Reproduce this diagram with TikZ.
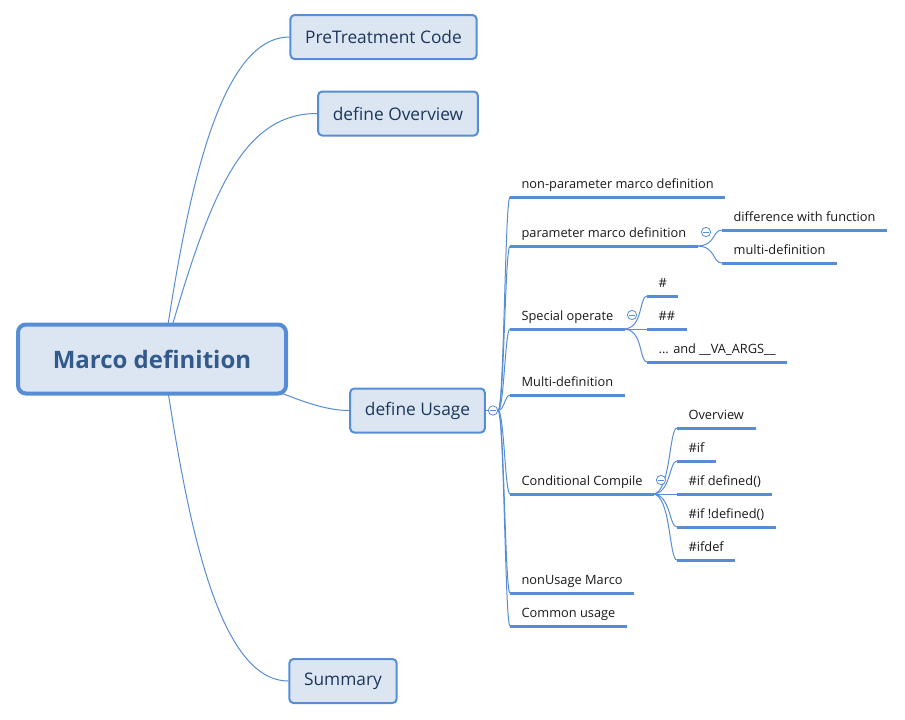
\documentclass[tikz,border=0pt]{standalone}
\usepackage{fontspec}
\setmainfont{Open Sans}
\usetikzlibrary{backgrounds}
\definecolor{mmline}{RGB}{86,141,214}
\definecolor{mmfill}{RGB}{220,230,242}
\definecolor{mmtext}{RGB}{28,55,92}
\definecolor{mmroot}{RGB}{50,90,140}
\definecolor{mmleaf}{RGB}{25,25,25}

\begin{document}
\begin{tikzpicture}[x=0.75pt,y=-0.75pt,
    topic/.style={draw=mmline,line width=1.5pt,fill=mmfill,rounded corners=3pt,inner xsep=11pt,minimum height=33pt,font=\fontsize{13}{15}\selectfont,text=mmtext},
    central/.style={draw=mmline,line width=3pt,fill=mmfill,rounded corners=6pt,minimum width=201pt,minimum height=51.75pt,font=\fontsize{18}{21}\selectfont\bfseries,text=mmroot},
    leaf/.style={anchor=south west,inner xsep=8.5pt,inner ysep=4pt,text height=7.5pt,text depth=2pt,font=\fontsize{9.6}{11.5}\selectfont,text=mmleaf},
    link/.style={draw=mmline,line width=0.75pt},
    uline/.style={draw=mmline,line width=2.25pt},
    fold/.style={circle,draw=mmline,fill=white,line width=0.6pt,inner sep=0pt,minimum size=7pt,
        path picture={\draw[mmline,line width=0.5pt] ([xshift=-2pt]path picture bounding box.center) -- ([xshift=2pt]path picture bounding box.center);}}]

    \useasboundingbox (0,0) rectangle (905,719);

    % Central topic and main branches
    \node[central] (root) at (152,359) {Marco definition};
    \coordinate (hub) at (163,358);
    \node[topic] (pre) at (383.5,37) {PreTreatment Code};
    \node[topic] (over) at (398,113.5) {define Overview};
    \node[topic] (usage) at (417.5,410.5) {define Usage};
    \node[topic] (sum) at (343,681) {Summary};

    % Subtopics of define Usage
    \node[leaf] (np) at (510,197) {non-parameter marco definition};
    \node[leaf] (pm) at (510,246) {parameter marco definition};
    \node[leaf] (so) at (510,329) {Special operate};
    \node[leaf] (md) at (510,395) {Multi-definition};
    \node[leaf] (cc) at (510,494) {Conditional Compile};
    \node[leaf] (nu) at (510,593) {nonUsage Marco};
    \node[leaf] (cu) at (510,626) {Common usage};

    \node[leaf] (dw) at (722,230) {difference with function};
    \node[leaf] (mu) at (722,263) {multi-definition};

    \node[leaf] (ha) at (647,296) {\#};
    \node[leaf] (hb) at (647,329) {\#\#};
    \node[leaf] (va) at (647,362) {... and \_\_VA\_ARGS\_\_};

    \node[leaf] (ova) at (677,428) {Overview};
    \node[leaf] (ifa) at (677,461) {\#if};
    \node[leaf] (ifb) at (677,494) {\#if defined()};
    \node[leaf] (ifc) at (677,527) {\#if !defined()};
    \node[leaf] (ifd) at (677,560) {\#ifdef};

    % Underlines
    \foreach \n in {np,pm,so,md,cc,nu,cu,dw,mu,ha,hb,va,ova,ifa,ifb,ifc,ifd}
        \draw[uline] (\n.south west) -- (\n.south east);

    % Connectors
    \begin{scope}[on background layer]
        \draw[link] (hub) .. controls +(22,-150) and +(-73,0) .. (pre.west);
        \draw[link] (hub) .. controls +(45,-160) and +(-77,0) .. (over.west);
        \draw[link] (hub) .. controls +(87,12) and +(-49,0) .. (usage.west);
        \draw[link] (hub) .. controls +(22,150) and +(-73,0) .. (sum.west);
    \end{scope}

    \node[fold] (uf) at (493,410.5) {};
    \draw[link] (usage.east) -- (uf.west);
    \foreach \n in {np,pm,so,md,cc,nu,cu}
        \draw[link] (uf.east) .. controls +(6,0) and +(-5,0) .. (\n.south west);

    \foreach \n in {dw,mu}
        \draw[link] ([xshift=-1pt]pm.south east) .. controls +(20,0) and +(-10,0) .. (\n.south west);
    \foreach \n in {ha,hb,va}
        \draw[link] ([xshift=-1pt]so.south east) .. controls +(20,0) and +(-8,0) .. (\n.south west);
    \foreach \n in {ova,ifa,ifb,ifc,ifd}
        \draw[link] ([xshift=-1pt]cc.south east) .. controls +(18,0) and +(-8,0) .. (\n.south west);

    % Fold markers
    \node[fold] (pf) at (706,232) {};
    \node[fold] (sf) at (632,315) {};
    \node[fold] (cf) at (661,480) {};
\end{tikzpicture}
\end{document}
